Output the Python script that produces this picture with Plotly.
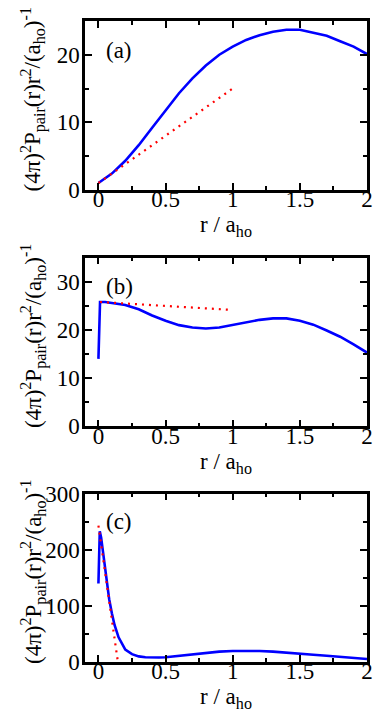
import plotly.graph_objects as go

# panel (a)
r_a = [0, 0.1, 0.2, 0.3, 0.4, 0.5, 0.6, 0.7, 0.8, 0.9, 1.0,
       1.1, 1.2, 1.3, 1.4, 1.5, 1.6, 1.7, 1.8, 1.9, 2.0]
p_a = [1.0, 2.4, 4.3, 6.6, 9.2, 11.8, 14.3, 16.5, 18.4, 20.0, 21.2,
       22.2, 22.9, 23.4, 23.7, 23.7, 23.3, 22.8, 22.0, 21.2, 20.1]
r_a_fit = [0, 1.0]
p_a_fit = [1.0, 15.0]

# panel (b)
r_b = [0, 0.012, 0.05, 0.1, 0.2, 0.3, 0.4, 0.5, 0.6, 0.7, 0.8, 0.9, 1.0,
       1.1, 1.2, 1.3, 1.4, 1.5, 1.6, 1.7, 1.8, 1.9, 2.0]
p_b = [14.0, 25.8, 25.8, 25.6, 25.2, 24.3, 23.0, 21.9, 21.0, 20.5, 20.3, 20.5, 21.0,
       21.6, 22.1, 22.4, 22.4, 21.9, 21.1, 19.9, 18.6, 17.0, 15.3]
r_b_fit = [0.012, 0.97]
p_b_fit = [25.8, 24.2]

# panel (c)
r_c = [0, 0.01, 0.02, 0.04, 0.06, 0.08, 0.1, 0.12, 0.15, 0.2, 0.25, 0.3, 0.35,
       0.4, 0.45, 0.5, 0.6, 0.7, 0.8, 0.9, 1.0, 1.1, 1.2, 1.3, 1.4, 1.5,
       1.6, 1.7, 1.8, 1.9, 2.0]
p_c = [140, 233, 222, 185, 145, 112, 87, 66, 44, 22, 14, 10, 8.5,
       8, 8, 8.5, 11, 14, 16.5, 18.5, 19.5, 20, 19.5, 18.5, 17, 15,
       13, 11, 9, 7, 5.3]
r_c_fit = [0, 0.145]
p_c_fit = [243, 0]

panels = [
    ("a", r_a, p_a, r_a_fit, p_a_fit, [0, 25], 10, 5, [0.7367, 1.0], 20.6),
    ("b", r_b, p_b, r_b_fit, p_b_fit, [0, 35], 10, 5, [0.3676, 0.6308], 29.0),
    ("c", r_c, p_c, r_c_fit, p_c_fit, [0, 300], 100, 50, [0.0, 0.2627], 251),
]

FONT = "Liberation Serif"
ytitle = "(4\u03c0)<sup>2</sup>P<sub>pair</sub>(r)r<sup>2</sup>/(a<sub>ho</sub>)<sup>-1</sup>"

fig = go.Figure()
layout = {}
annotations = []
for i, (lab, r, p, rf, pf, yr, dt, mdt, dom, ylab) in enumerate(panels):
    n = "" if i == 0 else str(i + 1)
    fig.add_trace(go.Scatter(x=r, y=p, mode="lines", xaxis="x" + n, yaxis="y" + n,
                             line=dict(color="#0000ff", width=2.6), showlegend=False))
    fig.add_trace(go.Scatter(x=rf, y=pf, mode="lines", xaxis="x" + n, yaxis="y" + n,
                             line=dict(color="#ff0000", width=2.2, dash="2px,5px"),
                             showlegend=False))
    common = dict(showline=True, linecolor="black", linewidth=2.5, mirror="allticks",
                  ticks="inside", ticklen=7, tickwidth=2.2, tickcolor="black",
                  showgrid=False, zeroline=False,
                  tickfont=dict(family=FONT, size=23, color="black"))
    layout["xaxis" + n] = dict(common, range=[-0.1, 2.0], dtick=0.5, tick0=0,
                               anchor="y" + n, ticklabelstandoff=-13,
                               minor=dict(dtick=0.25, tick0=0, ticklen=4, tickwidth=2,
                                          ticks="inside", tickcolor="black"),
                               title=dict(text="r / a<sub>ho</sub>", standoff=0,
                                          font=dict(family=FONT, size=23, color="black")))
    layout["yaxis" + n] = dict(common, range=yr, dtick=dt, tick0=0, domain=dom,
                               anchor="x" + n, ticklabelstandoff=-2,
                               minor=dict(dtick=mdt, tick0=0, ticklen=4, tickwidth=2,
                                          ticks="inside", tickcolor="black"))
    annotations.append(dict(text="(" + lab + ")", x=0.04, y=ylab, xref="x" + n, yref="y" + n,
                            xanchor="left", yanchor="middle", showarrow=False,
                            font=dict(family=FONT, size=23, color="black")))
    annotations.append(dict(text=ytitle, x=-0.184, xref="paper",
                            y=(dom[0] + dom[1]) / 2, yref="paper", yshift=6,
                            textangle=-90, xanchor="center", yanchor="middle",
                            showarrow=False,
                            font=dict(family=FONT, size=23, color="black")))

fig.update_layout(**layout)
fig.update_layout(width=382, height=717, margin=dict(l=85, r=9, t=10, b=55),
                  paper_bgcolor="white", plot_bgcolor="white",
                  annotations=annotations)
# drop the page's default body margin so the figure fills the window
fig.write_html("out.html", config={"displayModeBar": False},
               post_script="document.body.style.margin='0';")
